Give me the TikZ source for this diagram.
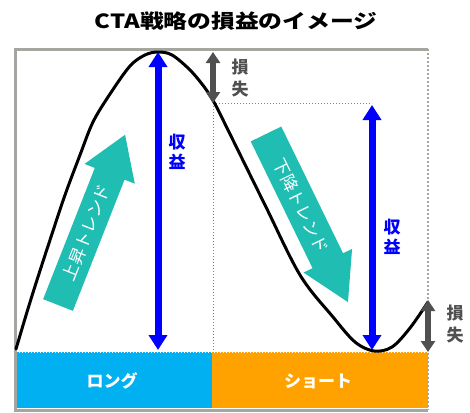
\documentclass[tikz,border=0pt]{standalone}
\usepackage{fontspec}
\usepackage{graphicx}
\setmainfont{Noto Sans CJK JP}
\usetikzlibrary{arrows.meta}
\definecolor{framegray}{RGB}{166,166,160}
\definecolor{longblue}{RGB}{0,176,240}
\definecolor{shortorange}{RGB}{255,162,0}
\definecolor{trendteal}{RGB}{32,190,178}
\definecolor{lossgray}{RGB}{80,80,80}
\definecolor{gainblue}{RGB}{0,0,255}
\tikzset{
  bartext/.style={text=white, font=\bfseries\fontsize{17}{17}\selectfont},
  gainarrow/.style={draw=gainblue, line width=7pt, {Triangle[length=15pt,width=18pt]}-{Triangle[length=15pt,width=18pt]}},
  lossarrow/.style={draw=lossgray, line width=6pt, {Triangle[length=11pt,width=14pt]}-{Triangle[length=11pt,width=14pt]}},
  gaintext/.style={text=gainblue, font=\bfseries\fontsize{17}{20}\selectfont, align=center, inner sep=0pt},
  losstext/.style={text=lossgray, font=\bfseries\fontsize{17}{22}\selectfont, align=center, inner sep=0pt},
  trend/.style={fill=trendteal},
  trendtext/.style={text=white, font=\fontsize{17}{17}\selectfont, inner sep=0pt},
  guide/.style={draw=gray, dotted, line width=1pt}
}
\begin{document}
\begin{tikzpicture}[x=1pt,y=-1pt]
\useasboundingbox (0,0) rectangle (470,412);
% title
\node (title) at (236,21) {\scalebox{1.22}[1]{\bfseries\fontsize{19.5}{19.5}\selectfont CTA戦略の損益のイメージ}};
% bars
\fill[longblue] (16,352) rectangle (212,408);
\fill[shortorange] (212,352) rectangle (428,408);
\node[bartext] (long) at (112,381) {ロング};
\node[bartext] (short) at (318,381) {ショート};
\draw[white, dotted, line width=1pt] (16,352) -- (428,352);
% frame
\draw[framegray, line width=3pt] (428,49) -- (15,49) -- (15,410) -- (428,410);
\draw[framegray, line width=2pt, dotted] (428,49) -- (428,410);
% guides
\coordinate (gA) at (213,103);
\coordinate (gB) at (372,103);
\coordinate (gC) at (213,352);
\draw[guide] (gA) -- (gB);
\draw[guide] (gA) -- (gC);
% trend arrows
\begin{scope}[shift={(58,305)}, rotate=68.5]
  \fill[trend] (0,-16) -- (141,-16) -- (141,-27) -- (183,0) -- (141,27) -- (141,16) -- (0,16) -- cycle;
  \node[trendtext, rotate=68.5] (up) at (78,0) {上昇トレンド};
\end{scope}
\begin{scope}[shift={(266,134)}, rotate=-64]
  \fill[trend] (0,-17) -- (141,-17) -- (141,-27) -- (187,0) -- (141,27) -- (141,17) -- (0,17) -- cycle;
  \node[trendtext, rotate=-64] (down) at (80,0) {下降トレンド};
\end{scope}
% curve
\draw[line width=3pt, line join=round, line cap=round] plot[smooth, tension=0.55] coordinates {
 (16,349) (27,312) (37,280) (50,240) (65,195) (80,155) (93,122) (110,94) (130,66) (145,55) (158,52)
 (172,55) (190,70) (205,88) (215,104) (228,130) (265,205) (300,275) (333,317) (355,342) (374,351)
 (392,347) (410,328) (428,302)};
% gain arrows
\coordinate (g1t) at (158,52);
\coordinate (g1b) at (158,350);
\coordinate (g2t) at (372,105);
\coordinate (g2b) at (372,350);
\draw[gainarrow] (g1t) -- (g1b);
\draw[gainarrow] (g2t) -- (g2b);
\node[gaintext] (gain1) at (177,152) {収\\益};
\node[gaintext] (gain2) at (392,237) {収\\益};
% loss arrows
\coordinate (l1t) at (213,52);
\coordinate (l1b) at (213,103);
\coordinate (l2t) at (428,300);
\coordinate (l2b) at (428,352);
\draw[lossarrow] (l1t) -- (l1b);
\draw[lossarrow] (l2t) -- (l2b);
\node[losstext] (loss1) at (240,78) {損\\失};
\node[losstext] (loss2) at (455,324) {損\\失};
\end{tikzpicture}
\end{document}
